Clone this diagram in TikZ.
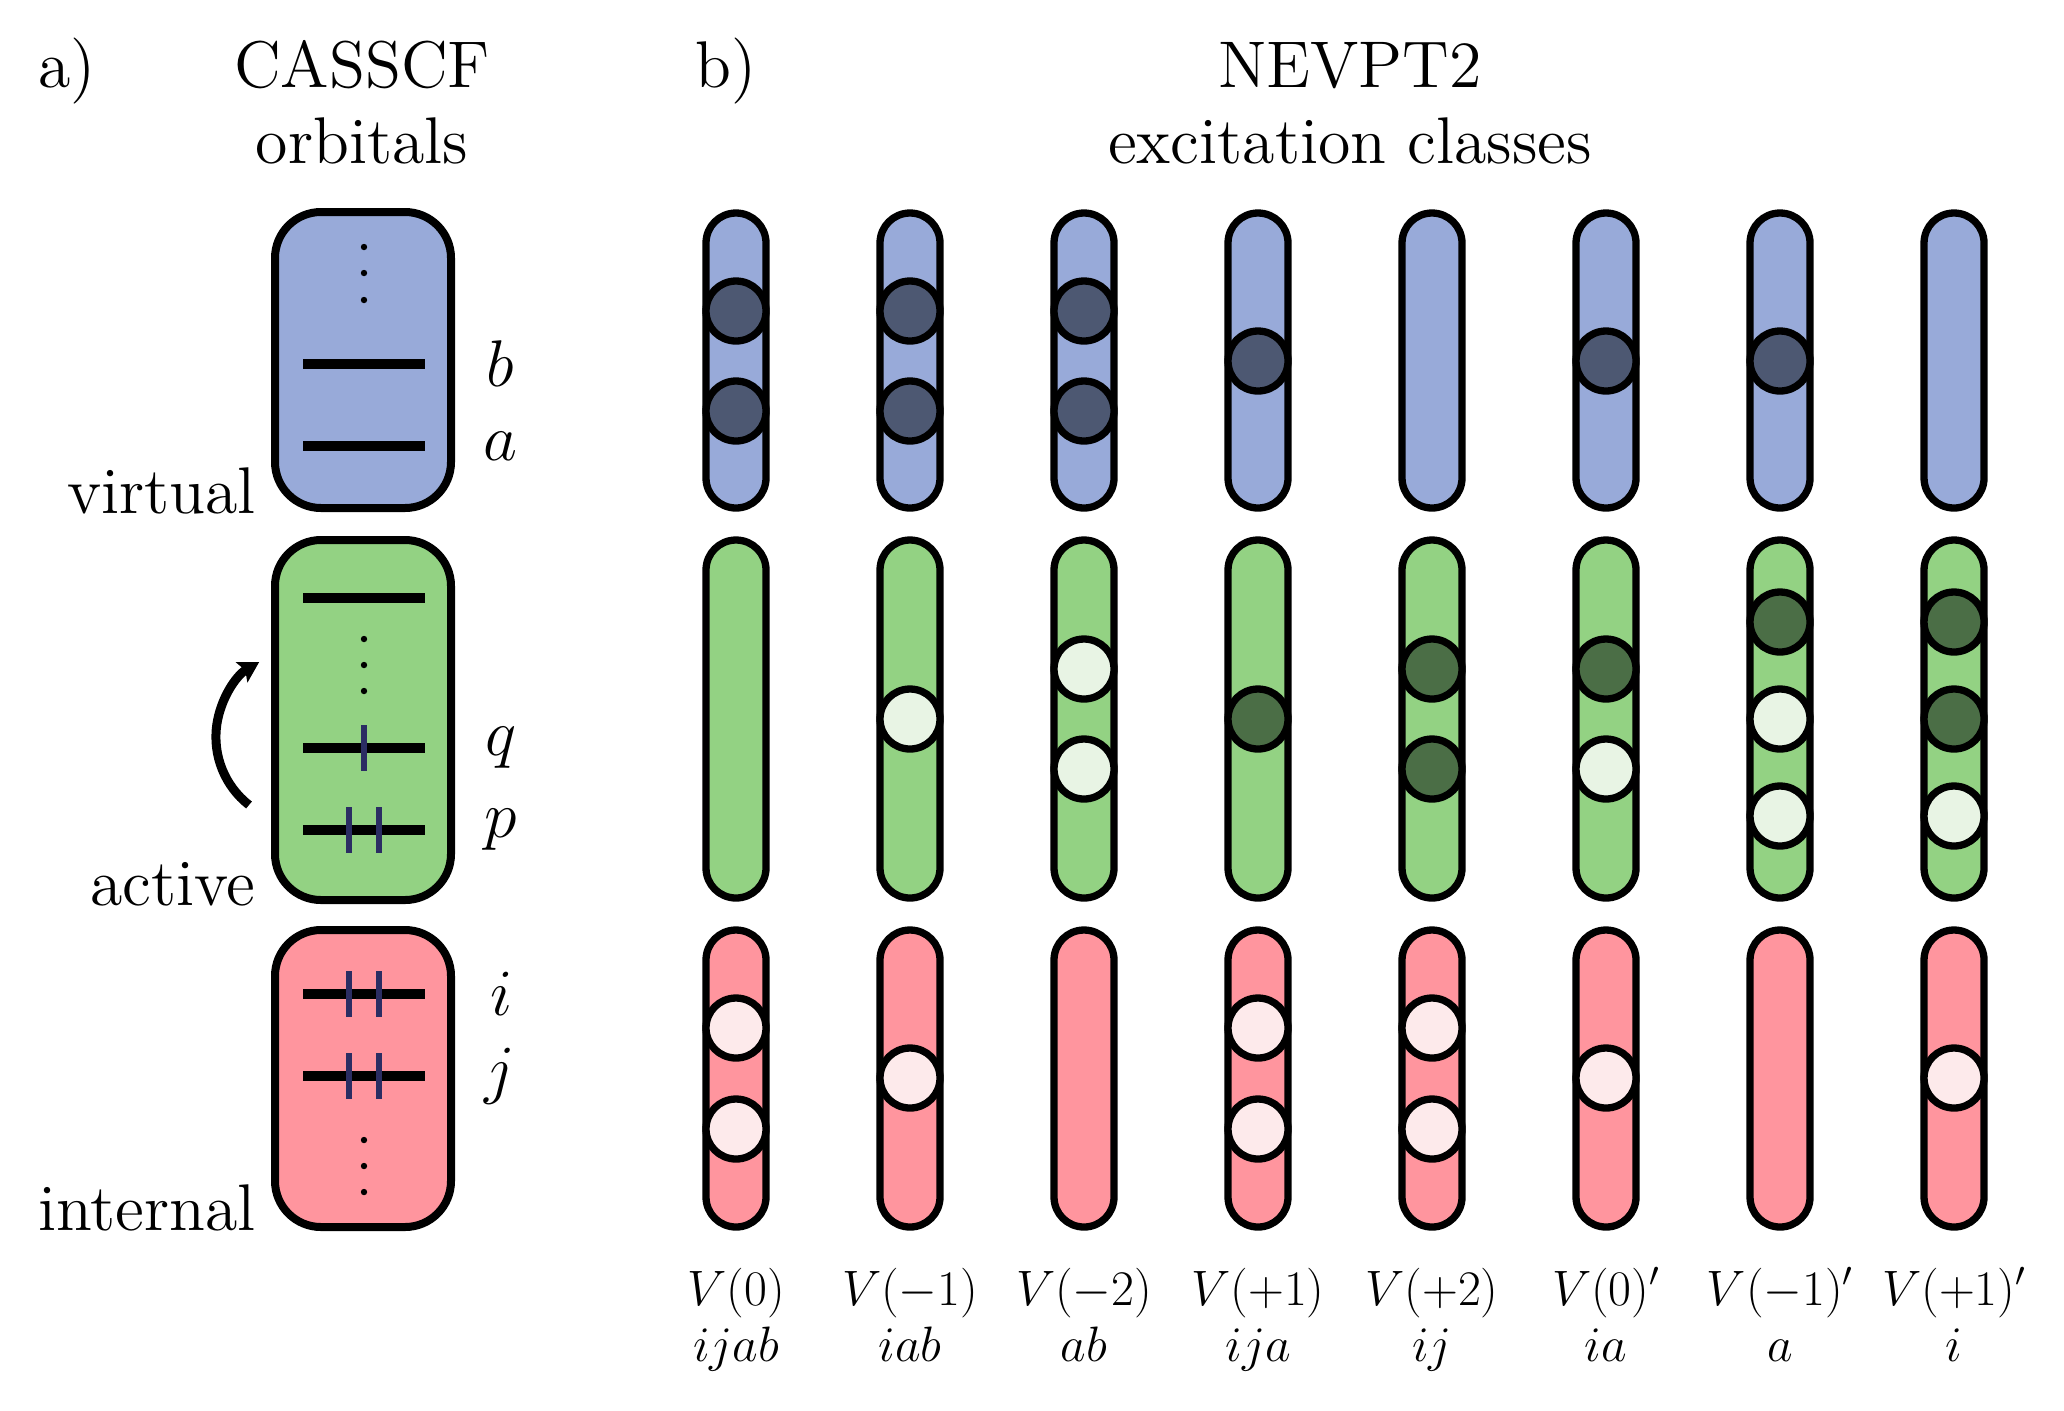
\documentclass[tikz,border=0pt]{standalone}
\usetikzlibrary{arrows.meta}
\definecolor{vfill}{RGB}{152,170,217}
\definecolor{vdark}{RGB}{77,88,114}
\definecolor{afill}{RGB}{147,210,131}
\definecolor{adark}{RGB}{75,110,70}
\definecolor{alight}{RGB}{232,244,228}
\definecolor{ifill}{RGB}{255,149,158}
\definecolor{ilight}{RGB}{253,234,235}
\definecolor{tickc}{RGB}{43,45,99}
\newcommand{\bigtxt}[1]{\scalebox{2.75}{\fontsize{12}{14.4}\selectfont #1}}
\begin{document}
\begin{tikzpicture}[x=0.5pt,y=-0.5pt,
  title/.style={inner sep=0pt},
  lab/.style={font=\fontsize{25}{30}\selectfont, inner sep=0pt},
  obox/.style={draw, line width=4pt, rounded corners=23pt, minimum width=88pt, inner sep=0pt},
  pill/.style={draw, line width=3.65pt, rounded corners=15pt, minimum width=30pt, inner sep=0pt},
  elec/.style={circle, draw, line width=3.65pt, minimum size=30pt, inner sep=0pt},
  level/.style={line width=5pt},
  spin/.style={draw=tickc, line width=2.75pt},
  dotm/.style={circle, fill=black, inner sep=0pt, minimum size=3.2pt},
]
\useasboundingbox (0,0) rectangle (2064,1410);

% ---------- titles ----------
\node[title, anchor=base west] (ta) at (38,87) {\bigtxt{a)}};
\node[title, anchor=base] (tcas) at (362,87) {\bigtxt{CASSCF}};
\node[title, anchor=base] (torb) at (362,163) {\bigtxt{orbitals}};
\node[title, anchor=base west] (tb) at (695,87) {\bigtxt{b)}};
\node[title, anchor=base] (tnev) at (1350,87) {\bigtxt{NEVPT2}};
\node[title, anchor=base] (texc) at (1350,163) {\bigtxt{excitation classes}};

% ---------- part a: orbital boxes ----------
\node[obox, fill=vfill, minimum height=148pt] (virt) at (363,360) {};
\node[obox, fill=afill, minimum height=180pt] (act) at (363,720) {};
\node[obox, fill=ifill, minimum height=148.5pt] (int) at (363,1078.5) {};

\node[title, anchor=base east] (lvirt) at (256,513) {\bigtxt{virtual}};
\node[title, anchor=base east] (lact) at (256,905) {\bigtxt{active}};
\node[title, anchor=base east] (lint) at (256,1230) {\bigtxt{internal}};

% levels
\foreach \y in {364,446,598,748,830,994,1076}
  \draw[level] (303,\y) -- (425,\y);
% dots
\foreach \y [count=\n] in {247,273,300,639,665,691,1140,1166,1192}
  \node[dotm] (d\n) at (364,\y) {};
% spins
\draw[spin] (364,725) -- (364,771);
\foreach \y in {830,994,1076}{
  \draw[spin] (349,\y-23) -- (349,\y+23);
  \draw[spin] (379,\y-23) -- (379,\y+23);
}
% orbital labels
\node[title] (lb) at (500,364) {\bigtxt{$b$}};
\node[title] (la) at (500,446) {\bigtxt{$a$}};
\node[title] (lq) at (501,748) {\bigtxt{$q$}};
\node[title] (lp) at (501,830) {\bigtxt{$p$}};
\node[title] (li) at (502,994) {\bigtxt{$i$}};
\node[title] (lj) at (500,1076) {\bigtxt{$j$}};

% excitation arrow
\coordinate (arrs) at (249,805);
\draw[line width=4.5pt, -{Stealth[length=10pt,width=11.5pt,inset=2pt]}] (arrs) arc[start angle=231.9, end angle=120, radius=43.2pt];

% ---------- part b: excitation classes ----------
\foreach \k in {0,...,7}{
  \node[pill, fill=vfill, minimum height=147.5pt] (pv\k) at ({736+174*\k},360.5) {};
  \node[pill, fill=afill, minimum height=179pt] (pa\k) at ({736+174*\k},719) {};
  \node[pill, fill=ifill, minimum height=148.5pt] (pi\k) at ({736+174*\k},1078.5) {};
}
% electrons / holes
\foreach \k/\y/\c in {0/311/vdark,0/411/vdark,1/311/vdark,1/411/vdark,2/311/vdark,2/411/vdark,
  3/361/vdark,5/361/vdark,6/361/vdark,
  1/719/alight,2/669/alight,2/769/alight,3/719/adark,4/669/adark,4/769/adark,
  5/669/adark,5/769/alight,6/622/adark,6/719/alight,6/816/alight,7/622/adark,7/719/adark,7/816/alight,
  0/1028/ilight,0/1129/ilight,1/1078/ilight,3/1028/ilight,3/1129/ilight,4/1028/ilight,4/1129/ilight,
  5/1078/ilight,7/1078/ilight}
  \node[elec, fill=\c] (e\k-\y) at ({736+174*\k},\y) {};

% class labels
\foreach \k/\ta/\tb in {0/{V(0)}/{ijab},1/{V(-1)}/{iab},2/{V(-2)}/{ab},3/{V(+1)}/{ija},
  4/{V(+2)}/{ij},5/{V(0)'}/{ia},6/{V(-1)'}/{a},7/{V(+1)'}/{i}}{
  \node[lab, anchor=base] (cl\k) at ({736+174*\k},1305) {$\ta$};
  \node[lab, anchor=base] (cs\k) at ({736+174*\k},1361) {$\tb$};
}
\end{tikzpicture}
\end{document}
